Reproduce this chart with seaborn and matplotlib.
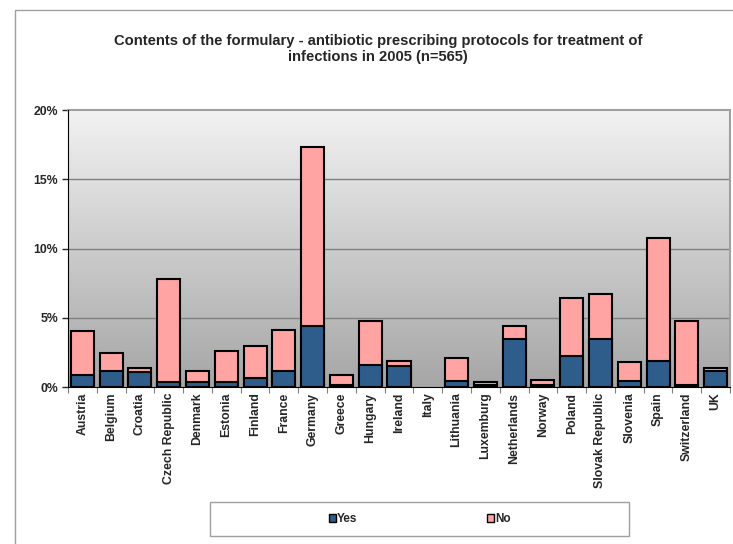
# %% Imports
import numpy as np
import pandas as pd
import seaborn as sns
import matplotlib.pyplot as plt
from matplotlib.colors import LinearSegmentedColormap
from matplotlib.patches import Patch, Rectangle
from matplotlib.ticker import PercentFormatter, FixedLocator

# %% Data (percent of n=565)
countries = ["Austria", "Belgium", "Croatia", "Czech Republic", "Denmark", "Estonia", "Finland",
             "France", "Germany", "Greece", "Hungary", "Ireland", "Italy", "Lithuania", "Luxemburg",
             "Netherlands", "Norway", "Poland", "Slovak Republic", "Slovenia", "Spain",
             "Switzerland", "UK"]
yes_pct = [0.85, 1.15, 1.05, 0.36, 0.36, 0.36, 0.65, 1.15, 4.39, 0.17, 1.57, 1.55, 0.0, 0.46,
           0.17, 3.45, 0.17, 2.24, 3.45, 0.46, 1.86, 0.17, 1.18]
no_pct = [3.20, 1.30, 0.32, 7.41, 0.79, 2.24, 2.30, 2.97, 12.91, 0.70, 3.20, 0.31, 0.0, 1.61,
          0.19, 0.94, 0.31, 4.22, 3.23, 1.33, 8.91, 4.60, 0.22]

YES_COLOR = "#2e5d8c"
NO_COLOR = "#ffa3a3"

# %% Plot
sns.set_style("white")
plt.rcParams["font.family"] = ["Liberation Sans", "DejaVu Sans"]

df = pd.DataFrame({"country": countries, "yes": yes_pct, "no": no_pct})
df["total"] = df["yes"] + df["no"]

fig = plt.figure(figsize=(7.33, 5.44), dpi=100)
ax = fig.add_axes([68 / 733, 1 - 387 / 544, (730 - 68) / 733, (387 - 110) / 544])

# gradient background of plot area (dark at bottom, light at top)
grad = np.linspace(0, 1, 256).reshape(-1, 1)
bg_cmap = LinearSegmentedColormap.from_list("bg", ["#a6a6a6", "#f2f2f2"])
ax.imshow(grad, cmap=bg_cmap, origin="lower", aspect="auto",
          extent=[-0.5, len(countries) - 0.5, 0, 20], zorder=0)

for y in [5, 10, 15]:
    ax.axhline(y, color="#808080", lw=1, zorder=1)

sns.barplot(data=df, x="country", y="total", color=NO_COLOR, width=0.8, saturation=1,
            edgecolor="black", linewidth=1.5, ax=ax, zorder=2)
sns.barplot(data=df, x="country", y="yes", color=YES_COLOR, width=0.8, saturation=1,
            edgecolor="black", linewidth=1.5, ax=ax, zorder=3)
# empty bars (Italy) draw nothing
for p in ax.patches:
    if p.get_height() == 0:
        p.set_visible(False)

ax.set_xlim(-0.5, len(countries) - 0.5)
ax.set_ylim(0, 20)
ax.set_yticks([0, 5, 10, 15, 20])
ax.yaxis.set_major_formatter(PercentFormatter(decimals=0))
ax.set_xlabel("")
ax.set_ylabel("")

for s in ["top", "right"]:
    ax.spines[s].set_color("#a0a0a0")
    ax.spines[s].set_linewidth(1.5)
ax.spines["left"].set_color("black")
ax.spines["bottom"].set_color("black")
ax.spines["left"].set_zorder(5)

ax.tick_params(axis="y", which="major", direction="out", length=4, width=1, labelsize=8.8, pad=3, left=True)
ax.tick_params(axis="x", which="major", length=0, labelsize=8.8, pad=4, labelrotation=90)
ax.xaxis.set_minor_locator(FixedLocator(np.arange(-0.5, len(countries), 1)))
ax.tick_params(axis="x", which="minor", direction="out", length=4, width=0.8, color="#808080", bottom=True)
for lab in ax.get_xticklabels() + ax.get_yticklabels():
    lab.set_fontweight("bold")

fig.text(378 / 733, 1 - 49 / 544,
         "Contents of the formulary - antibiotic prescribing protocols for treatment of\ninfections in 2005 (n=565)",
         ha="center", va="center", fontsize=10.6, fontweight="bold", linespacing=1.1)

# outer chart border
fig.add_artist(Rectangle((15 / 733, -0.1), 1.2, 1 - 10 / 544 + 0.1, transform=fig.transFigure,
                         fill=False, edgecolor="#a0a0a0", lw=1))
# legend box
fig.add_artist(Rectangle((210 / 733, 1 - 536 / 544), (629 - 210) / 733, 34 / 544, transform=fig.transFigure,
                         fill=False, edgecolor="#a0a0a0", lw=1))
handles = [Patch(facecolor=YES_COLOR, edgecolor="black", label="Yes"),
           Patch(facecolor=NO_COLOR, edgecolor="black", label="No")]
fig.legend(handles=handles, loc="center", bbox_to_anchor=(420 / 733, 1 - 519 / 544), ncol=2,
           frameon=False, handlelength=0.6, handleheight=0.6, handletextpad=0.1, columnspacing=11,
           prop={"weight": "bold", "size": 8.5})

fig.savefig("out.png", dpi=100)
